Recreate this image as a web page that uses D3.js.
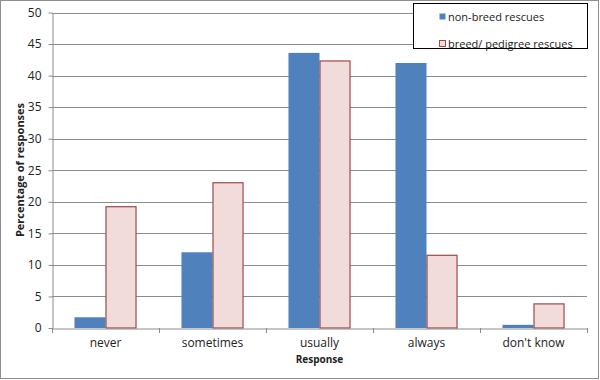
<!DOCTYPE html>
<html>
<head>
<meta charset="utf-8">
<script src="https://cdn.jsdelivr.net/npm/d3@7"></script>
<style>
  body { margin: 0; background: #fff; }
  svg text { font-family: "Open Sans", "Liberation Sans", sans-serif; fill: #222; }
</style>
</head>
<body>
<svg id="chart" width="600" height="380"></svg>
<script>
// data
const categories = ['never', 'sometimes', 'usually', 'always', "don't know"];
const seriesNames = ['non-breed rescues', 'breed/ pedigree rescues'];
const nonBreed = [1.7, 12.0, 43.6, 42.0, 0.5];
const pedigree = [19.3, 23.1, 42.4, 11.6, 3.9];
const yTicks = [0, 5, 10, 15, 20, 25, 30, 35, 40, 45, 50];

const colors = ['#4f81bd', '#f2dcdb'];
const strokes = ['none', '#9b4a4a'];

const svg = d3.select('#chart');
const margin = { top: 12.5, right: 13, bottom: 52, left: 52 };
const width = 600, height = 380;

// outer frame
svg.append('rect')
  .attr('x', 0.5).attr('y', 0.5)
  .attr('width', width - 2).attr('height', height - 2)
  .attr('fill', '#fff')
  .attr('stroke', '#8e8e8e');

const x0 = d3.scaleBand()
  .domain(categories)
  .range([margin.left, width - margin.right]);

const x1 = d3.scaleBand()
  .domain(seriesNames)
  .range([x0.bandwidth() * 0.21, x0.bandwidth() * 0.79]);

const y = d3.scaleLinear()
  .domain([0, 50])
  .range([height - margin.bottom, margin.top]);

// gridlines
svg.append('g')
  .selectAll('line')
  .data(yTicks.slice(1))
  .enter()
  .append('line')
  .attr('x1', margin.left)
  .attr('x2', width - margin.right)
  .attr('y1', d => Math.round(y(d)) + 0.5)
  .attr('y2', d => Math.round(y(d)) + 0.5)
  .attr('stroke', '#8c8c8c');

// y axis
const yAxis = svg.append('g')
  .attr('transform', `translate(${margin.left + 0.5},0)`)
  .call(d3.axisLeft(y).tickValues(yTicks).tickSize(4).tickPadding(7).tickSizeOuter(0));
yAxis.select('.domain').attr('stroke', '#8c8c8c');
yAxis.selectAll('.tick line').attr('stroke', '#8c8c8c');
yAxis.selectAll('text').style('font-size', '12px').attr('fill', '#222');

// bars
const rows = categories.map((c, i) => ({ cat: c, values: [nonBreed[i], pedigree[i]] }));
const groups = svg.append('g')
  .selectAll('g')
  .data(rows)
  .enter()
  .append('g')
  .attr('transform', d => `translate(${x0(d.cat)},0)`);

groups.selectAll('rect')
  .data(d => d.values.map((v, k) => ({ v, k })))
  .enter()
  .append('rect')
  .attr('x', d => x1(seriesNames[d.k]) + (d.k === 1 ? 0.5 : 0))
  .attr('y', d => y(d.v) + (d.k === 1 ? 0.5 : 0))
  .attr('width', d => x1.bandwidth() - (d.k === 1 ? 1 : 0))
  .attr('height', d => y(0) - y(d.v) - (d.k === 1 ? 0.5 : 0))
  .attr('fill', d => colors[d.k])
  .attr('stroke', d => strokes[d.k])
  .attr('stroke-width', 1.2);

// x axis
const xAxis = svg.append('g')
  .attr('transform', `translate(0,${Math.round(y(0)) + 0.5})`)
  .call(d3.axisBottom(x0).tickSize(0).tickPadding(10));
xAxis.select('.domain').attr('stroke', '#8c8c8c');
xAxis.selectAll('text').style('font-size', '12px').attr('fill', '#222');

// category boundary ticks
svg.append('g')
  .selectAll('line')
  .data(categories.concat(['end']))
  .enter()
  .append('line')
  .attr('x1', (d, i) => margin.left + i * x0.step() + 0.5)
  .attr('x2', (d, i) => margin.left + i * x0.step() + 0.5)
  .attr('y1', y(0))
  .attr('y2', y(0) + 5)
  .attr('stroke', '#8c8c8c');

// axis titles
svg.append('text')
  .attr('x', (margin.left + width - margin.right) / 2)
  .attr('y', 363)
  .attr('text-anchor', 'middle')
  .style('font-size', '10px')
  .style('font-weight', 'bold')
  .text('Response');

svg.append('text')
  .attr('transform', 'translate(24,170) rotate(-90)')
  .attr('text-anchor', 'middle')
  .style('font-size', '11px')
  .style('font-weight', 'bold')
  .text('Percentage of responses');

// legend
const legend = svg.append('g');
legend.append('rect')
  .attr('x', 413.5).attr('y', 3.5)
  .attr('width', 174).attr('height', 45)
  .attr('fill', '#fff')
  .attr('stroke', '#000');

seriesNames.forEach((name, k) => {
  const ly = 17 + k * 27;
  legend.append('rect')
    .attr('x', 439.5).attr('y', ly - 3.5)
    .attr('width', 6).attr('height', 6)
    .attr('fill', colors[k])
    .attr('stroke', k === 1 ? strokes[1] : 'none');
  legend.append('text')
    .attr('x', 448)
    .attr('y', ly)
    .attr('dy', '0.35em')
    .style('font-size', '11px')
    .text(name);
});
</script>
</body>
</html>
